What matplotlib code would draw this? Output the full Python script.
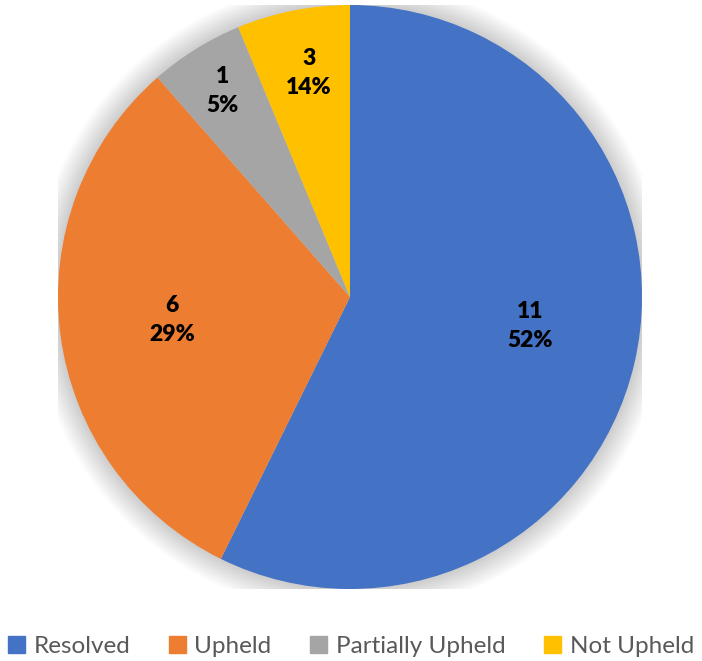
import matplotlib.pyplot as plt
import numpy as np
from matplotlib.patches import Circle

# data
categories = ['Resolved', 'Upheld', 'Partially Upheld', 'Not Upheld']
counts = [11, 6, 1, 3]            # numbers printed on the slices
percents = [52, 29, 5, 14]        # percentages printed on the slices
slice_sizes = [11, 6, 1, 1.2]     # angular sizes as drawn in the picture
colors = ['#4472C4', '#ED7D31', '#A5A5A5', '#FFC000']

# label placement (Excel puts them off the mid-angle), in radius units
label_pos = [(0.616, -0.100), (-0.610, -0.079), (-0.438, 0.705), (-0.140, 0.767)]

W, H = 702, 661
fig = plt.figure(figsize=(W / 100, H / 100), dpi=100)
cx, cy, r = 350, 297, 292
ax = fig.add_axes([(cx - r) / W, (H - cy - r) / H, 2 * r / W, 2 * r / H])

# soft glow behind the pie
glow = 25 / r
for k in range(25):
    rad = 1 + glow * (1 - k / 25)
    ax.add_patch(Circle((0, 0), rad, color='#9a9a9a', alpha=0.018, lw=0, zorder=0))

wedges, _ = ax.pie(slice_sizes, colors=colors, startangle=90, counterclock=False,
                   radius=1, wedgeprops=dict(linewidth=0))
for w in wedges:
    w.set_zorder(2)

for n, p, (x, y) in zip(counts, percents, label_pos):
    ax.text(x, y, f"{n}\n{p}%", ha='center', va='center',
            fontsize=16.5, fontweight='heavy', family='Lato', color='black',
            linespacing=1.5, zorder=3)

ax.set_xlim(-1, 1)
ax.set_ylim(-1, 1)
ax.set_aspect('equal')
ax.axis('off')

handles = [plt.Rectangle((0, 0), 1, 1, color=c) for c in colors]
fig.legend(handles, categories, loc='center', bbox_to_anchor=(0.5, 0.022),
           ncol=4, frameon=False, handlelength=0.7, handleheight=0.7,
           handletextpad=0.35, columnspacing=1.6,
           prop=dict(family='Lato', size=17.5), labelcolor='#595959')

fig.savefig('out.png', dpi=100)
